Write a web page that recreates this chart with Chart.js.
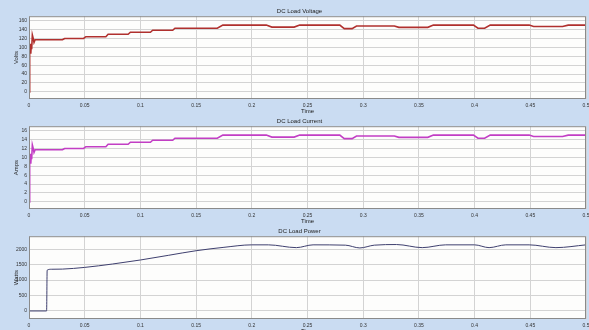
<!DOCTYPE html>
<html>
<head>
<meta charset="utf-8">
<script src="https://cdn.jsdelivr.net/npm/chart.js@4.4.1/dist/chart.umd.min.js"></script>
<style>
    html, body { margin: 0; padding: 0; width: 589px; height: 330px; overflow: hidden; background: #cadcf2; }
    .panel { position: absolute; left: 0; width: 589px; height: 116px; }
</style>
</head>
<body>
<div class="panel" style="top:0px"><canvas id="graficaVoltaje" width="589" height="116"></canvas></div>
<div class="panel" style="top:110px"><canvas id="graficaCorriente" width="589" height="116"></canvas></div>
<div class="panel" style="top:220px"><canvas id="graficaPotencia" width="589" height="116"></canvas></div>
<script>
// datos
const tiempoVI = [0, 0.0004, 0.0008, 0.0012, 0.0016, 0.002, 0.0024, 0.003, 0.0038, 0.0045, 0.0055,
    0.03, 0.032, 0.049, 0.051, 0.069, 0.071, 0.089, 0.091, 0.109, 0.111, 0.129, 0.131, 0.169, 0.174,
    0.213, 0.218, 0.238, 0.243, 0.279, 0.283, 0.290, 0.294, 0.328, 0.332, 0.358, 0.363, 0.399, 0.403,
    0.409, 0.414, 0.449, 0.453, 0.479, 0.484, 0.5];
const voltaje = [0, 55, 95, 108, 86, 104, 96, 128, 120, 111, 117,
    117, 120, 120, 124, 124, 129.5, 129.5, 134, 134, 138.5, 138.5, 143, 143, 150,
    150, 145.5, 145.5, 150, 150, 142, 142, 148, 148, 145, 145, 150, 150, 143,
    143, 150, 150, 147, 147, 150, 150];
const corriente = [0, 5.5, 9.5, 10.8, 8.6, 10.4, 9.6, 12.8, 12.0, 11.1, 11.7,
    11.7, 12.0, 12.0, 12.4, 12.4, 12.95, 12.95, 13.4, 13.4, 13.85, 13.85, 14.3, 14.3, 15.0,
    15.0, 14.55, 14.55, 15.0, 15.0, 14.2, 14.2, 14.8, 14.8, 14.5, 14.5, 15.0, 15.0, 14.3,
    14.3, 15.0, 15.0, 14.7, 14.7, 15.0, 15.0];
const tiempoP = [0, 0.0158, 0.0163, 0.02, 0.03, 0.05, 0.075, 0.1, 0.125, 0.15, 0.175, 0.2, 0.215,
    0.24, 0.255, 0.284, 0.297, 0.31, 0.33, 0.353, 0.374, 0.4, 0.413, 0.428, 0.449, 0.473, 0.5];
const potencia = [0, 0, 1320, 1350, 1355, 1410, 1520, 1650, 1800, 1950, 2060, 2140, 2140,
    2050, 2140, 2130, 2040, 2130, 2150, 2050, 2140, 2140, 2050, 2140, 2140, 2050, 2140];

// marcas de los ejes
const ticksTiempo = [0, 0.05, 0.1, 0.15, 0.2, 0.25, 0.3, 0.35, 0.4, 0.45, 0.5];
const ticksVoltaje = [0, 20, 40, 60, 80, 100, 120, 140, 160];
const ticksCorriente = [0, 2, 4, 6, 8, 10, 12, 14, 16];
const ticksPotencia = [0, 500, 1000, 1500, 2000];

const fuente = 'Liberation Sans, Arial, sans-serif';
const fuenteTicks = 'Liberation Sans Narrow, Liberation Sans, Arial, sans-serif';

// fondo blanco y marco del area de la grafica
const marcoPlugin = {
    id: 'marco',
    beforeDraw(chart) {
        const a = chart.chartArea;
        const ctx = chart.ctx;
        ctx.save();
        ctx.fillStyle = '#fdfdfc';
        ctx.fillRect(a.left, a.top, a.right - a.left, a.bottom - a.top);
        ctx.restore();
    },
    afterDraw(chart) {
        const a = chart.chartArea;
        const ctx = chart.ctx;
        ctx.save();
        ctx.strokeStyle = '#8a8a8a';
        ctx.lineWidth = 1;
        ctx.strokeRect(a.left + 0.5, a.top + 0.5, a.right - a.left - 1, a.bottom - a.top - 1);
        ctx.restore();
    }
};

function crearGrafica(id, titulo, etiquetaY, xs, ys, color, grosor, ticksY, minY, maxY, curva) {
    const puntos = xs.map((t, i) => ({ x: t, y: ys[i] }));

    const config = {
        type: 'line',
        data: {
            datasets: [{
                data: puntos,
                borderColor: color,
                borderWidth: grosor,
                pointRadius: 0,
                tension: 0,
                cubicInterpolationMode: curva ? 'monotone' : 'default',
                fill: false
            }]
        },
        options: {
            responsive: false,
            animation: false,
            layout: { padding: { top: 8, left: 13, right: 3, bottom: 0 } },
            plugins: {
                legend: { display: false },
                tooltip: { enabled: false },
                title: {
                    display: true,
                    text: titulo,
                    color: '#222',
                    font: { family: fuente, size: 6, weight: 'normal' },
                    padding: { top: 0, bottom: 1 }
                }
            },
            scales: {
                x: {
                    type: 'linear',
                    min: 0,
                    max: 0.5,
                    afterBuildTicks: scale => { scale.ticks = ticksTiempo.map(v => ({ value: v })); },
                    afterFit: scale => {
                        scale.height = 17;
                        scale.paddingLeft = 0;
                        scale.paddingRight = 0;
                    },
                    grid: { color: '#d3d3d3', drawTicks: false },
                    border: { display: false },
                    ticks: {
                        color: '#333',
                        padding: 4,
                        maxRotation: 0,
                        font: { family: fuenteTicks, size: 5 },
                        callback: v => String(+v.toFixed(2))
                    },
                    title: {
                        display: true,
                        text: 'Time',
                        color: '#222',
                        font: { family: fuente, size: 6 },
                        padding: { top: 0, bottom: 1 }
                    }
                },
                y: {
                    min: minY,
                    max: maxY,
                    afterBuildTicks: scale => { scale.ticks = ticksY.map(v => ({ value: v })); },
                    afterFit: scale => { scale.width = 16; },
                    grid: { color: '#d3d3d3', drawTicks: false },
                    border: { display: false },
                    ticks: {
                        color: '#333',
                        padding: 2,
                        font: { family: fuenteTicks, size: 5 },
                        callback: v => String(v)
                    },
                    title: {
                        display: true,
                        text: etiquetaY,
                        color: '#222',
                        font: { family: fuente, size: 6 },
                        padding: 0
                    }
                }
            }
        },
        plugins: [marcoPlugin]
    };

    const ctx = document.getElementById(id).getContext('2d');
    new Chart(ctx, config);
}

crearGrafica('graficaVoltaje', 'DC Load Voltage', 'Volts', tiempoVI, voltaje, '#b0302e', 1.6, ticksVoltaje, -16, 170, false);
crearGrafica('graficaCorriente', 'DC Load Current', 'Amps', tiempoVI, corriente, '#c23ec4', 1.6, ticksCorriente, -1.6, 17, false);
crearGrafica('graficaPotencia', 'DC Load Power', 'Watts', tiempoP, potencia, '#3e3f6e', 1, ticksPotencia, -260, 2420, true);
</script>
</body>
</html>
